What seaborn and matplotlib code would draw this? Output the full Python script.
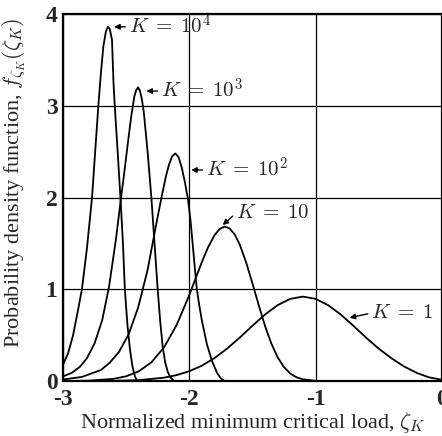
import numpy as np
import pandas as pd
import matplotlib
matplotlib.use('Agg')
import matplotlib.pyplot as plt
import seaborn as sns

# 曲线数据: zeta_K 与概率密度
k1_x = [-3.0, -2.6, -2.4, -2.2, -2.1, -2.0, -1.9, -1.8, -1.7, -1.6, -1.5, -1.4, -1.3,
        -1.2, -1.1, -1.0, -0.9, -0.8, -0.7, -0.6, -0.5, -0.4, -0.3, -0.2, -0.1, 0.0]
k1_y = [0.0, 0.003, 0.01, 0.037, 0.065, 0.107, 0.168, 0.25, 0.354, 0.474, 0.602, 0.725, 0.827,
        0.896, 0.92, 0.896, 0.827, 0.725, 0.602, 0.474, 0.354, 0.25, 0.16, 0.09, 0.04, 0.015]

k10_x = [-3.0, -2.8, -2.6, -2.5, -2.4, -2.3, -2.2, -2.1, -2.0, -1.95, -1.9, -1.85, -1.8, -1.76,
         -1.72, -1.68, -1.64, -1.6, -1.55, -1.5, -1.45, -1.4, -1.35, -1.3, -1.25, -1.2, -1.15,
         -1.1, -1.0]
k10_y = [0.0, 0.004, 0.024, 0.052, 0.106, 0.204, 0.366, 0.61, 0.936, 1.117, 1.297, 1.46, 1.589,
         1.656, 1.683, 1.663, 1.597, 1.487, 1.295, 1.067, 0.828, 0.601, 0.409, 0.259, 0.152,
         0.082, 0.041, 0.019, 0.002]

k100_x = [-3.0, -2.85, -2.7, -2.63, -2.555, -2.48, -2.405, -2.33, -2.26, -2.22, -2.185, -2.16,
          -2.135, -2.11, -2.085, -2.06, -2.035, -2.01, -1.99, -1.97, -1.955, -1.94, -1.92,
          -1.9, -1.86, -1.82, -1.78, -1.75, -1.72]
k100_y = [0.017, 0.045, 0.12, 0.2, 0.32, 0.51, 0.8, 1.21, 1.72, 2.0, 2.23, 2.36,
          2.45, 2.48, 2.44, 2.33, 2.17, 1.98, 1.75, 1.45, 1.22, 1.0, 0.82,
          0.66, 0.4, 0.22, 0.09, 0.03, 0.0]

k1000_x = [-3.0, -2.93, -2.865, -2.81, -2.75, -2.69, -2.635, -2.58, -2.54, -2.52, -2.49, -2.46,
           -2.435, -2.42, -2.405, -2.39, -2.375, -2.36, -2.33, -2.3, -2.275, -2.25, -2.23,
           -2.21, -2.19, -2.17, -2.15, -2.12]
k1000_y = [0.05, 0.09, 0.156, 0.25, 0.41, 0.66, 1.03, 1.55, 2.0, 2.21, 2.55, 2.88,
           3.1, 3.17, 3.2, 3.16, 3.07, 2.93, 2.5, 2.0, 1.5, 1.0, 0.65,
           0.37, 0.2, 0.1, 0.04, 0.0]

k10000_x = [-3.0, -2.96, -2.92, -2.88, -2.85, -2.81, -2.77, -2.745, -2.72, -2.7, -2.68, -2.66,
            -2.645, -2.63, -2.612, -2.6, -2.59, -2.567, -2.545, -2.525, -2.51, -2.49, -2.47,
            -2.45, -2.43, -2.41]
k10000_y = [0.18, 0.3, 0.5, 0.78, 1.0, 1.45, 2.0, 2.5, 3.0, 3.35, 3.65, 3.81,
            3.86, 3.84, 3.72, 3.25, 3.0, 2.5, 2.0, 1.5, 1.0, 0.62, 0.35,
            0.16, 0.05, 0.0]

curves = [('1', k1_x, k1_y), ('10', k10_x, k10_y), ('100', k100_x, k100_y),
          ('1000', k1000_x, k1000_y), ('10000', k10000_x, k10000_y)]
df = pd.concat([pd.DataFrame({'zeta': xs, 'f': ys, 'K': k}) for k, xs, ys in curves],
               ignore_index=True)

sns.set_style('white')
plt.rcParams['font.family'] = ['Liberation Serif', 'DejaVu Serif']
plt.rcParams['mathtext.fontset'] = 'cm'
plt.rcParams['axes.unicode_minus'] = False

fig = plt.figure(figsize=(4.42, 4.36), dpi=100)
ax = fig.add_axes([0.1425, 0.126, 0.857, 0.842])

sns.lineplot(data=df, x='zeta', y='f', hue='K', palette=['black'] * 5, legend=False,
             sort=False, lw=1.3, ax=ax)

ax.set_xlim(-3, 0)
ax.set_ylim(0, 4)
ax.set_xticks([-3, -2, -1, 0])
ax.set_xticklabels(['-3', '-2', '-1', '0'])
ax.set_yticks([0, 1, 2, 3, 4])
ax.set_yticklabels(['0', '1', '2', '3', '4'])
ax.tick_params(length=0, labelsize=17)
ax.tick_params(axis='x', pad=6)
ax.tick_params(axis='y', pad=4)
for t in ax.get_xticklabels() + ax.get_yticklabels():
    t.set_fontweight('bold')
ax.grid(True, color='black', lw=0.9)
for s in ax.spines.values():
    s.set_linewidth(1.6)
    s.set_color('black')

ax.set_xlabel(r'Normalized minimum critical load, $\zeta_K$', fontsize=16, labelpad=0)
ax.set_ylabel(r'Probability density function, $f_{\zeta_K}(\zeta_K)$', fontsize=16)
ax.yaxis.set_label_coords(-0.092, 0.54)

# 标注箭头
arrow = dict(arrowstyle='-|>', color='black', lw=1.0, mutation_scale=8,
             shrinkA=0, shrinkB=0, relpos=(0, 0.5))
labels = [
    (r'$K\;=\;10^4$', (-2.595, 3.86), (-2.48, 3.86)),
    (r'$K\;=\;10^3$', (-2.34, 3.16), (-2.225, 3.16)),
    (r'$K\;=\;10^2$', (-1.985, 2.30), (-1.87, 2.30)),
    (r'$K\;=\;10$', (-1.735, 1.70), (-1.63, 1.83)),
    (r'$K\;=\;1$', (-0.73, 0.69), (-0.56, 0.74)),
]
for txt, xy, xyt in labels:
    ax.annotate(txt, xy=xy, xytext=xyt, ha='left', va='center', fontsize=15,
                arrowprops=arrow)

fig.savefig('out.png', dpi=100)
